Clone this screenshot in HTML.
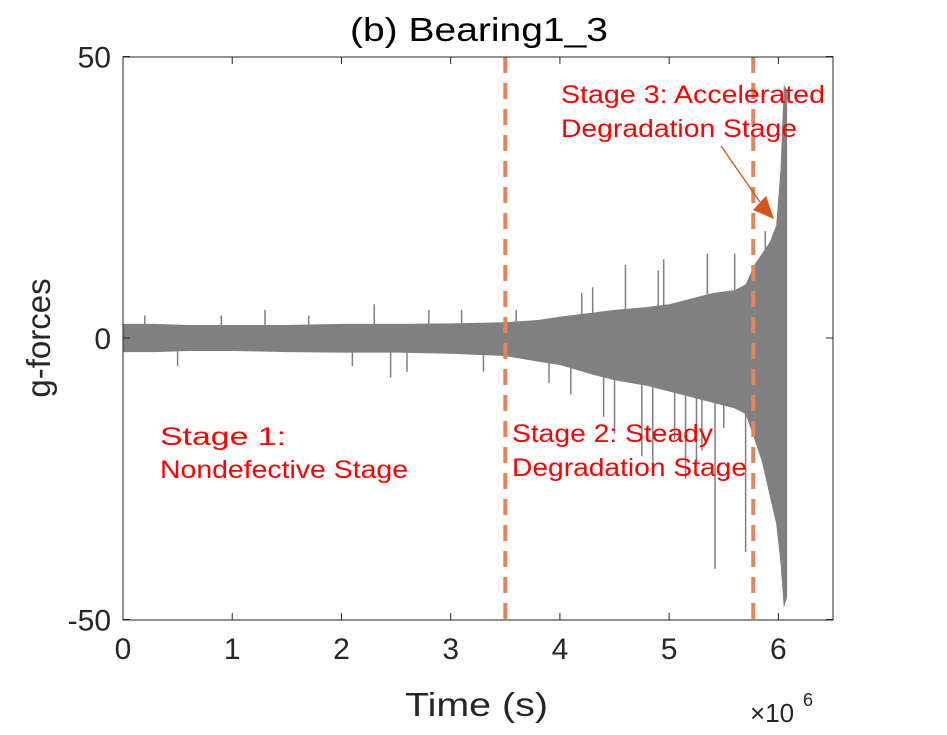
<!DOCTYPE html>
<html><head><meta charset="utf-8"><style>
body{margin:0;background:#fff;}
svg text{font-family:"Liberation Sans",sans-serif;}
</style></head><body>
<svg id="chart" width="947" height="730" viewBox="0 0 947 730">
<rect width="947" height="730" fill="#fff"/>
<g id="plot"></g>
</svg>
<script>
const times=[0,0.3,0.6,1,1.5,2,2.5,3,3.5,3.8,4,4.3,4.5,4.8,5,5.2,5.4,5.6,5.7,5.78,5.85,5.92,5.98,6.02,6.05,6.08];
const upper=[2.5,2.5,2.3,2.3,2.3,2.5,2.5,2.6,2.8,3.2,3.8,4.5,5,5.5,6,7,8,8.5,9.5,13,15,17,20,30,45,44];
const lower=[-2.5,-2.5,-2.3,-2.3,-2.5,-2.6,-2.6,-2.8,-3.2,-4.2,-4.8,-6.5,-7.5,-8.5,-9.5,-10.5,-11.5,-12.5,-13.5,-18,-22,-28,-33,-40,-48,-46];
const spikeT=[0.2,0.5,0.9,1.3,1.7,2.1,2.3,2.45,2.6,2.8,3.1,3.3,3.6,3.9,4.1,4.3,4.5,4.6,4.75,4.85,4.95,5.05,5.15,5.25,5.35,5.42,5.5,5.6,5.7,5.88,5.95,4.2,4.4,4.9,5.3];
const spikeV=[4,-5,4,5,4,-5,6,-7,-6,5,5,-6,5,-8,-10,9,-17,13,-21,-22,14,-18,-25,-22,15,-41,-16,15,-38,19,-30,8,-14,12,-20];
const xTicks=[0,1,2,3,4,5,6];
const yTicks=[-50,0,50];
const stageLines=[3.5,5.77];
const L=123,R=833,T=57,B=620;
const xs=t=>L+t*(R-L)/6.5;
const ys=v=>338-v*(B-T)/100;
const NS="http://www.w3.org/2000/svg";
const g=document.getElementById('plot');
function mk(tag,attrs,parent){const e=document.createElementNS(NS,tag);for(const k in attrs)e.setAttribute(k,attrs[k]);(parent||g).appendChild(e);return e;}
let pts=times.map((t,i)=>xs(t)+','+ys(upper[i]));
pts=pts.concat(times.slice().reverse().map((t,j)=>{const i=times.length-1-j;return xs(t)+','+ys(lower[i]);}));
let env=mk('polygon',{points:pts.join(' '),fill:'#808080'});


spikeT.forEach((t,i)=>{let s=mk('line',{x1:xs(t),x2:xs(t),y1:ys(0),y2:ys(spikeV[i]),stroke:'#808080','stroke-width':1.5});

});
stageLines.forEach(t=>{let l=mk('line',{x1:xs(t),x2:xs(t),y1:T,y2:B,stroke:'#e0855d','stroke-width':4,'stroke-dasharray':'16,10'});

});
let box=mk('rect',{x:L,y:T,width:R-L,height:B-T,fill:'none',stroke:'#262626','stroke-width':1});


xTicks.forEach(v=>{mk('line',{x1:xs(v),x2:xs(v),y1:B,y2:B-7,stroke:'#262626'});mk('line',{x1:xs(v),x2:xs(v),y1:T,y2:T+7,stroke:'#262626'});
let t=mk('text',{x:xs(v),y:B+39,'text-anchor':'middle','font-size':30,fill:'#262626'});t.textContent=v;

});
yTicks.forEach(v=>{mk('line',{x1:L,x2:L+7,y1:ys(v),y2:ys(v),stroke:'#262626'});mk('line',{x1:R,x2:R-7,y1:ys(v),y2:ys(v),stroke:'#262626'});
let t=mk('text',{x:L-12,y:ys(v)+11,'text-anchor':'end','font-size':30,fill:'#262626'});t.textContent=v;

});
function txt(x,y,s,size,fill,name,w){let t=mk('text',{x:x,y:y,'font-size':size,fill:fill});t.textContent=s;
if(w){t.setAttribute('textLength',w);t.setAttribute('lengthAdjust','spacingAndGlyphs');}

return t;}
txt(350,41,'(b) Bearing1_3',33,'#000','chart-title',258);
txt(405,716,'Time (s)',33,'#262626','x-axis-title',143);
let yt=mk('text',{x:0,y:0,'text-anchor':'middle','font-size':33,fill:'#262626',transform:'translate(50,338) rotate(-90)'});yt.textContent='g-forces';


txt(750,722,'×10',26,'#262626','x-exponent');txt(803,706,'6',18,'#262626','x-exponent-power');
txt(160,445,'Stage 1:',25,'#ff0000','stage1-label',126);txt(160,478,'Nondefective Stage',25,'#ff0000','stage1-label',248);
txt(512,442,'Stage 2: Steady',25,'#ff0000','stage2-label',201);txt(512,476,'Degradation Stage',25,'#ff0000','stage2-label',235);
txt(561,103,'Stage 3: Accelerated',25,'#ff0000','stage3-label',264);txt(561,137,'Degradation Stage',25,'#ff0000','stage3-label',236);
let ar=mk('line',{x1:721,y1:146,x2:760,y2:202,stroke:'#d95319','stroke-width':1.3});


let ah=mk('polygon',{points:'774,219 753,210 766,196',fill:'#d95319'});


</script>
</body></html>
